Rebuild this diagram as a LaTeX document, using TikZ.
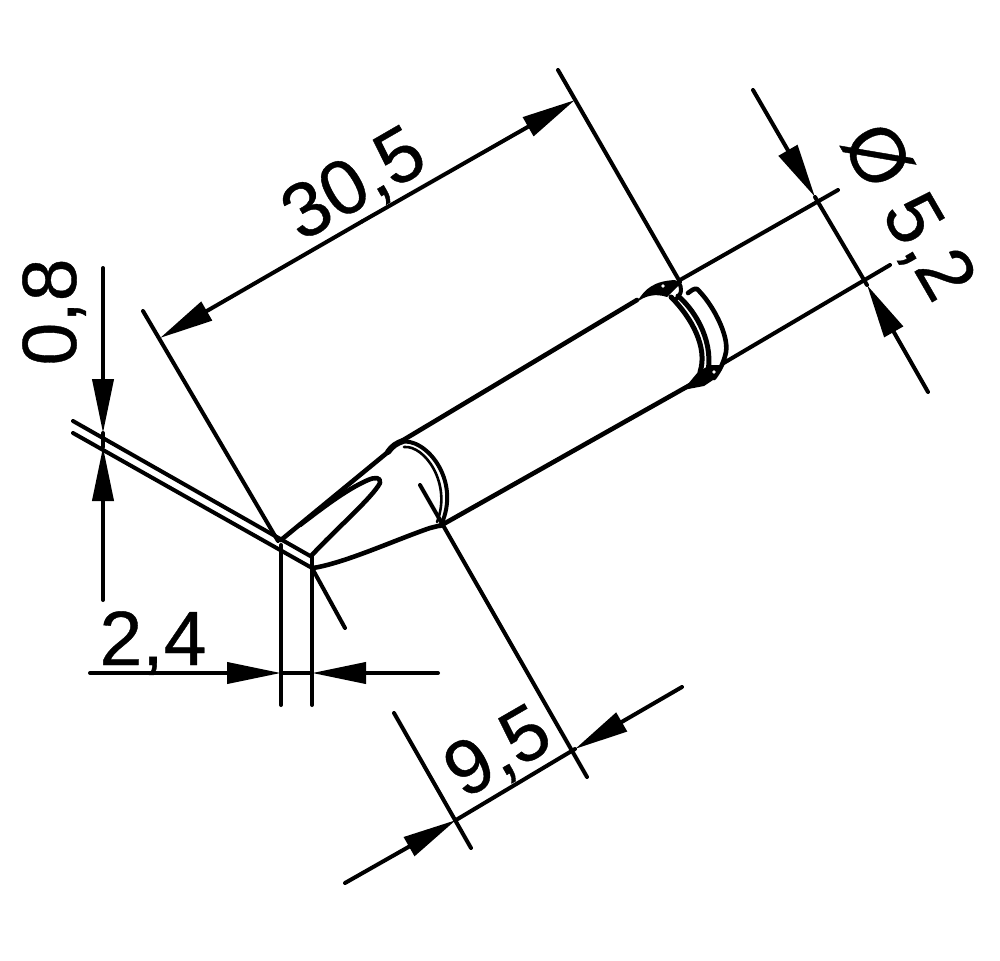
\documentclass[tikz,border=0pt]{standalone}
\usepackage{fontspec}
\setmainfont{Liberation Sans}
\newfontfamily\lblfont[FakeBold=0.5]{Liberation Sans}
\usetikzlibrary{arrows.meta}
\tikzset{
  ln/.style={line width=4.6pt,line cap=round,line join=round},
  thin ln/.style={line width=4pt,line cap=round,line join=round},
  dim/.style={line width=4pt,line cap=round,line join=round,-{Triangle[length=54pt,width=21pt]}},
  lbl/.style={font=\lblfont\fontsize{77}{77}\selectfont,inner sep=0pt,anchor=base},
}
\begin{document}
\begin{tikzpicture}[x=1pt,y=-1pt]
\useasboundingbox (0,0) rectangle (1000,960);
% tip double edge
\draw[thin ln] (73,421) -- (312,557);
\draw[thin ln] (73,433) -- (312,568);
% witness lines
\draw[thin ln] (143,311) -- (278,541);
\draw[thin ln] (312,568) -- (345,628);
\draw[thin ln] (281,545) -- (281,705);
\draw[thin ln] (312,557) -- (312,705);
\draw[thin ln] (558,70) -- (680,282);
\draw[thin ln] (394,713) -- (471,848);
\draw[thin ln] (420,485) -- (587,777);
% body
\draw[ln] (281,540) -- (388,452);
\draw[ln,line width=6pt] (388,452) .. controls (392,446) and (397,443) .. (403,441);
\draw[ln] (400,442) -- (637,300);
\draw[ln] (313,568) .. controls (345,563) and (395,540) .. (430,528) -- (442,525);
\draw[ln] (440,526) -- (690,385);
% chisel face
\draw[ln] (312,555) .. controls (335,530) and (372,498) .. (380,483) .. controls (381,477) and (375,477) .. (368,480) .. controls (345,490) and (320,510) .. (300,525);
% front ring
\draw[thin ln] (400,442) .. controls (425,436) and (462,480) .. (441,525);
\draw[line width=2.6pt,line cap=round] (404,447) .. controls (425,445) and (452,484) .. (437,522);
% rear shoulder
\fill (637,302) .. controls (645,288) and (655,281) .. (675,280) -- (680,284) -- (667,297) .. controls (655,293) and (645,296) .. (637,302) -- cycle;
\fill[white] (663,286) circle (1.8);
\draw[thin ln] (678,282) .. controls (683,288) and (682,294) .. (675,300);
\draw[ln,line width=5pt] (671,297) .. controls (692,318) and (708,348) .. (700,372);
\draw[ln,line width=5pt] (678,296) .. controls (697,312) and (715,345) .. (707,376);
\draw[thin ln,line width=4.6pt] (688,293) .. controls (691,291) and (694,288) .. (697,289) .. controls (712,303) and (729,335) .. (726,352) .. controls (724,362) and (720,370) .. (714,378);
\fill (683,390) -- (698,372) -- (710,365) -- (722,365) -- (716,378) -- (704,386) -- cycle;
\fill[white] (714,372) circle (1.8);
% shank continuation lines
\draw[thin ln] (680,280) -- (838,190);
\draw[thin ln] (722,364) -- (890,265);
% dimension coords
\coordinate (a305l) at (160,338);
\coordinate (a305r) at (575,100);
\draw[dim] (362,221.5) -- (a305r);
\draw[dim] (362,221.5) -- (a305l);
\coordinate (d1) at (753,90);
\coordinate (d2) at (815,197);
\coordinate (d3) at (867,285);
\coordinate (d4) at (928,392);
\draw[dim] (d1) -- (d2);
\draw[dim] (d4) -- (d3);
\draw[thin ln] (d2) -- (d3);
\coordinate (e1) at (345,883);
\coordinate (e2) at (456,820);
\coordinate (e3) at (575,749);
\coordinate (e4) at (682,687);
\draw[dim] (e1) -- (e2);
\draw[dim] (e4) -- (e3);
\draw[thin ln] (e2) -- (e3);
\coordinate (f1) at (90,673);
\coordinate (f2) at (281,673);
\coordinate (f3) at (312,673);
\coordinate (f4) at (438,673);
\draw[dim] (f1) -- (f2);
\draw[dim] (f4) -- (f3);
\draw[thin ln] (f2) -- (f3);
\coordinate (g1) at (103,268);
\coordinate (g2) at (103,433);
\coordinate (g3) at (103,447);
\coordinate (g4) at (103,600);
\draw[dim] (g1) -- (g2);
\draw[dim] (g4) -- (g3);
\draw[thin ln] (g2) -- (g3);
% labels
\node[lbl,rotate=30] (t305) at (366,205) {30,5};
\node[lbl,rotate=30] (t95) at (510,773) {9,5};
\node[lbl] (t24) at (153,665) {2,4};
\node[lbl,rotate=90] (t08) at (76,312) {0,8};
\node[lbl,rotate=-60] (t52) at (887,224) {Ø 5,2};
\end{tikzpicture}
\end{document}
